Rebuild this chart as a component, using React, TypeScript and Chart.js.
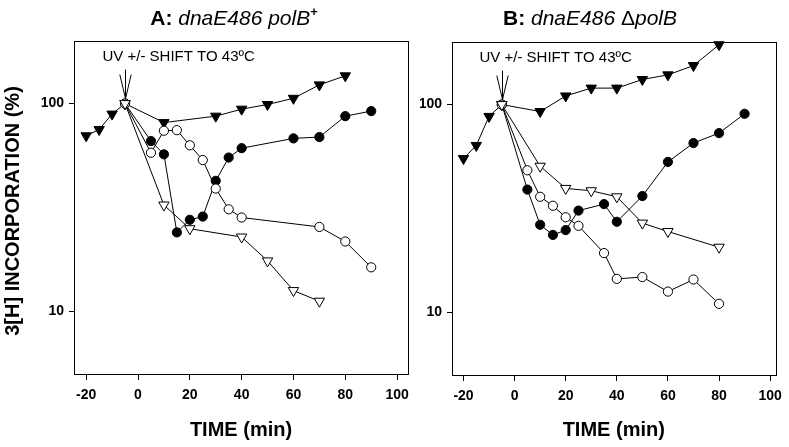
import React, { useEffect, useRef } from "react";
import { Chart, registerables } from "chart.js";

Chart.register(...registerables);

const FONT = "'Liberation Sans', Arial, Helvetica, sans-serif";

// ---------- Panel A: dnaE486 polB+ ----------
const aTimeClosedTri = [-20, -15, -10, -5, 10, 30, 40, 50, 60, 70, 80];
const aIncClosedTri = [70, 75, 89, 100, 81, 87, 94, 99, 106, 123, 136];

const aTimeClosedCirc = [-5, 5, 10, 15, 20, 25, 30, 35, 40, 60, 70, 80, 90];
const aIncClosedCirc = [100, 66, 57, 24, 27.6, 28.6, 42.5, 55, 61, 68, 69, 87, 92];

const aTimeOpenCirc = [-5, 5, 10, 15, 20, 25, 30, 35, 40, 70, 80, 90];
const aIncOpenCirc = [100, 58, 74, 74.5, 63, 53.5, 39, 31, 28.3, 25.5, 21.7, 16.3];

const aTimeOpenTri = [-5, 10, 20, 40, 50, 60, 70];
const aIncOpenTri = [100, 32.5, 25, 22.8, 17.5, 12.6, 11.2];

// ---------- Panel B: dnaE486 ΔpolB ----------
const bTimeClosedTri = [-20, -15, -10, -5, 10, 20, 30, 40, 50, 60, 70, 80];
const bIncClosedTri = [55, 63.6, 87.7, 100, 92.6, 110, 120, 120, 132, 139, 154, 194];

const bTimeClosedCirc = [-5, 5, 10, 15, 20, 25, 35, 40, 50, 60, 70, 80, 90];
const bIncClosedCirc = [100, 39, 26.4, 23.6, 24.9, 30.9, 33.2, 27.3, 36.3, 53, 65.3, 72.9, 90.3];

const bTimeOpenCirc = [-5, 5, 10, 15, 20, 25, 35, 40, 50, 60, 70, 80];
const bIncOpenCirc = [100, 48.3, 36, 32.6, 28.7, 26.1, 19.3, 14.5, 14.8, 12.6, 14.4, 11.0];

const bTimeOpenTri = [-5, 10, 20, 30, 40, 50, 60, 80];
const bIncOpenTri = [100, 50.5, 39.5, 38.5, 36, 26.9, 24.5, 20.6];

// ---------- Axes ----------
const xTickValues = [-20, 0, 20, 40, 60, 80, 100];
const yTickValues = [10, 100];
const shiftTime = -5;
const shiftLevel = 100;
const annotationText = "UV +/- SHIFT TO 43\u00BAC";
const xTitle = "TIME (min)";
const yTitle = "3[H] INCORPORATION (%)";

type Run = { text: string; font: string; dy?: number };

function zip(xs: number[], ys: number[]) {
  return xs.map((x, i) => ({ x, y: ys[i] }));
}

function series(xs: number[], ys: number[], kind: string) {
  const tri = kind.includes("Tri");
  const filled = kind.startsWith("closed");
  return {
    data: zip(xs, ys),
    showLine: true,
    borderColor: "#000",
    borderWidth: 1,
    tension: 0,
    clip: false as const,
    pointStyle: tri ? "triangle" : "circle",
    pointRotation: tri ? 180 : 0,
    pointRadius: tri ? 6 : 4.6,
    pointBackgroundColor: filled ? "#000" : "#fff",
    pointBorderColor: "#000",
    pointBorderWidth: 1,
  };
}

function drawRuns(ctx: CanvasRenderingContext2D, runs: Run[], cx: number, y: number) {
  let total = 0;
  for (const r of runs) {
    ctx.font = r.font;
    total += ctx.measureText(r.text).width;
  }
  let x = cx - total / 2;
  ctx.textAlign = "left";
  ctx.textBaseline = "alphabetic";
  for (const r of runs) {
    ctx.font = r.font;
    ctx.fillText(r.text, x, y + (r.dy || 0));
    x += ctx.measureText(r.text).width;
  }
}

type PanelCfg = {
  width: number;
  xMin: number;
  xMax: number;
  padTop: number;
  padRight: number;
  yAxisWidth: number;
  xAxisHeight: number;
  titleRuns: Run[];
  titleCx: number;
  showYTitle: boolean;
  datasets: any[];
};

function makeConfig(cfg: PanelCfg): any {
  const tickFont = { family: FONT, size: 14, weight: "bold" as const };
  const decor = {
    id: "decor",
    beforeDatasetsDraw(chart: any) {
      const { ctx, chartArea: a } = chart;
      ctx.save();
      ctx.strokeStyle = "#000";
      ctx.lineWidth = 1;
      ctx.strokeRect(Math.round(a.left) + 0.5, Math.round(a.top) + 0.5, Math.round(a.right - a.left), Math.round(a.bottom - a.top));
      ctx.restore();
    },
    afterDraw(chart: any) {
      const { ctx, chartArea: a, scales } = chart;
      ctx.save();
      ctx.fillStyle = "#000";
      ctx.strokeStyle = "#000";
      // arrow pointing at the shift point
      const px = Math.round(scales.x.getPixelForValue(shiftTime)) + 0.5;
      const py = scales.y.getPixelForValue(shiftLevel);
      const tip = py - 5;
      ctx.lineWidth = 1;
      ctx.beginPath();
      ctx.moveTo(px, tip - 29);
      ctx.lineTo(px, tip);
      ctx.moveTo(px - 5.7, tip - 24);
      ctx.lineTo(px, tip);
      ctx.lineTo(px + 5.7, tip - 24);
      ctx.stroke();
      // annotation text
      ctx.font = `15px ${FONT}`;
      ctx.textAlign = "left";
      ctx.textBaseline = "middle";
      ctx.fillText(annotationText, px - 23, a.top + 16);
      // panel title
      drawRuns(ctx, cfg.titleRuns, cfg.titleCx, 25);
      // x title
      ctx.font = `bold 20px ${FONT}`;
      ctx.textAlign = "center";
      ctx.textBaseline = "middle";
      ctx.fillText(xTitle, (a.left + a.right) / 2, 430);
      // y title
      if (cfg.showYTitle) {
        ctx.translate(13, 211);
        ctx.rotate(-Math.PI / 2);
        ctx.font = `bold 20px ${FONT}`;
        ctx.textAlign = "center";
        ctx.textBaseline = "middle";
        ctx.fillText(yTitle, 0, 0);
      }
      ctx.restore();
    },
  };

  return {
    type: "scatter",
    data: { datasets: cfg.datasets },
    options: {
      responsive: false,
      maintainAspectRatio: false,
      animation: false,
      devicePixelRatio: 1,
      layout: { padding: { top: cfg.padTop, right: cfg.padRight, left: 0, bottom: 0 } },
      plugins: { legend: { display: false }, tooltip: { enabled: false }, title: { display: false } },
      scales: {
        x: {
          type: "linear",
          min: cfg.xMin,
          max: cfg.xMax,
          afterBuildTicks: (s: any) => {
            s.ticks = xTickValues.map((v) => ({ value: v }));
          },
          afterFit: (s: any) => {
            s.height = cfg.xAxisHeight;
          },
          grid: { display: true, drawOnChartArea: false, drawTicks: true, tickLength: 6, color: "#000", lineWidth: 1 },
          border: { display: false },
          ticks: { font: tickFont, color: "#000", padding: 7, autoSkip: false, maxRotation: 0, callback: (v: any) => String(v) },
        },
        y: {
          type: "logarithmic",
          min: 5,
          max: 200,
          afterBuildTicks: (s: any) => {
            s.ticks = yTickValues.map((v) => ({ value: v }));
          },
          afterFit: (s: any) => {
            s.width = cfg.yAxisWidth;
          },
          grid: { display: true, drawOnChartArea: false, drawTicks: true, tickLength: 5, color: "#000", lineWidth: 1 },
          border: { display: false },
          ticks: { font: tickFont, color: "#000", padding: 5, autoSkip: false, callback: (v: any) => String(v) },
        },
      },
    },
    plugins: [decor],
  };
}

function Panel({ cfg, left }: { cfg: PanelCfg; left: number }) {
  const ref = useRef<HTMLCanvasElement | null>(null);
  useEffect(() => {
    if (!ref.current) return;
    const chart = new Chart(ref.current, makeConfig(cfg));
    return () => chart.destroy();
  }, []);
  return (
    <canvas
      ref={ref}
      width={cfg.width}
      height={447}
      style={{ position: "absolute", left, top: 0, width: cfg.width, height: 447 }}
    />
  );
}

const bold = (s: number) => `bold ${s}px ${FONT}`;
const ital = (s: number) => `italic ${s}px ${FONT}`;
const norm = (s: number) => `${s}px ${FONT}`;

const panelA: PanelCfg = {
  width: 420,
  xMin: -24.7,
  xMax: 104.2,
  padTop: 41,
  padRight: 12,
  yAxisWidth: 74,
  xAxisHeight: 73,
  titleRuns: [
    { text: "A: ", font: bold(21) },
    { text: "dnaE486 polB", font: ital(21) },
    { text: "+", font: bold(13), dy: -9 },
  ],
  titleCx: 234,
  showYTitle: true,
  datasets: [
    series(aTimeOpenTri, aIncOpenTri, "openTri"),
    series(aTimeOpenCirc, aIncOpenCirc, "openCirc"),
    series(aTimeClosedCirc, aIncClosedCirc, "closedCirc"),
    series(aTimeClosedTri, aIncClosedTri, "closedTri"),
  ],
};

const panelB: PanelCfg = {
  width: 369,
  xMin: -24.5,
  xMax: 102.1,
  padTop: 42,
  padRight: 11,
  yAxisWidth: 32,
  xAxisHeight: 72,
  titleRuns: [
    { text: "B: ", font: bold(21) },
    { text: "dnaE486 ", font: ital(21) },
    { text: "\u0394", font: norm(21) },
    { text: "polB", font: ital(21) },
  ],
  titleCx: 170,
  showYTitle: false,
  datasets: [
    series(bTimeOpenTri, bIncOpenTri, "openTri"),
    series(bTimeOpenCirc, bIncOpenCirc, "openCirc"),
    series(bTimeClosedCirc, bIncClosedCirc, "closedCirc"),
    series(bTimeClosedTri, bIncClosedTri, "closedTri"),
  ],
};

export default function App() {
  return (
    <div style={{ position: "fixed", left: 0, top: 0, width: 789, height: 447, background: "#fff", overflow: "hidden" }}>
      <Panel cfg={panelA} left={0} />
      <Panel cfg={panelB} left={420} />
    </div>
  );
}
